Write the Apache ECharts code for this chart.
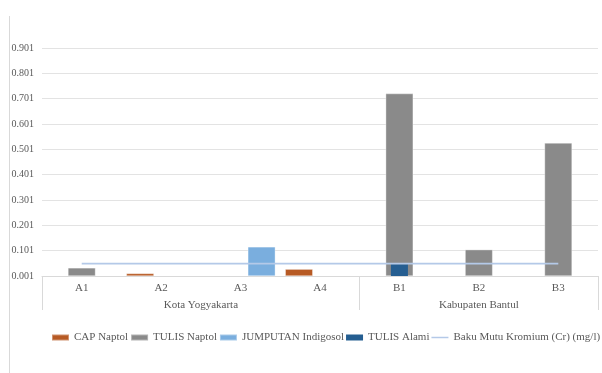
<!DOCTYPE html>
<html>
<head>
<meta charset="utf-8">
<script src="https://cdn.jsdelivr.net/npm/echarts@6/dist/echarts.min.js"></script>
<style>
  html, body { margin: 0; padding: 0; background: #fff; }
  #chart { width: 602px; height: 373px; }
</style>
</head>
<body>
<div id="chart"></div>
<script>
// Sample sites along the x axis, grouped by region
const categories = ['A1', 'A2', 'A3', 'A4', 'B1', 'B2', 'B3'];
const groupNames = ['Kota Yogyakarta', 'Kabupaten Bantul'];
const groupSizes = [4, 3];

// Chromium concentration (mg/l) per batik process
const capNaptol = [null, 0.012, null, 0.029, null, null, null];
const tulisNaptol = [0.034, null, null, null, 0.722, 0.106, 0.527];
const jumputanIndigosol = [null, null, 0.117, null, null, null, null];
const tulisAlami = [null, null, null, null, 0.048, null, null];
// Quality standard for chromium
const bakuMutu = [0.05, 0.05, 0.05, 0.05, 0.05, 0.05, 0.05];

// Value-axis tick labels
const yTicks = [0.001, 0.101, 0.201, 0.301, 0.401, 0.501, 0.601, 0.701, 0.801, 0.901];

const FONT = 'Liberation Serif';
const TEXT = '#595959';
const GRID_LINE = '#E3E3E3';
const AXIS_LINE = '#D9D9D9';

// Boundaries and label centres of the region groups, in category units
const groupBounds = [0];
const groupCenters = [];
groupSizes.forEach(function (n) {
  const start = groupBounds[groupBounds.length - 1];
  groupCenters.push(start + n / 2);
  groupBounds.push(start + n);
});

const chart = echarts.init(document.getElementById('chart'), null, { renderer: 'canvas' });

chart.setOption({
  animation: false,
  backgroundColor: '#fff',
  textStyle: { fontFamily: FONT },
  grid: { left: 42, right: 4, top: 48, bottom: 97, containLabel: false },
  legend: {
    left: 51,
    top: 332,
    width: 600,
    padding: 0,
    itemWidth: 17,
    itemHeight: 6,
    itemGap: 2,
    textStyle: { fontFamily: FONT, fontSize: 11, color: TEXT },
    data: [
      { name: 'CAP Naptol', icon: 'rect' },
      { name: 'TULIS Naptol', icon: 'rect' },
      { name: 'JUMPUTAN Indigosol', icon: 'rect' },
      { name: 'TULIS Alami', icon: 'rect' },
      { name: 'Baku Mutu Kromium (Cr) (mg/l)', icon: 'path://M0,0L17,0L17,1.5L0,1.5Z' }
    ]
  },
  xAxis: [
    {
      type: 'category',
      data: categories,
      position: 'bottom',
      axisLine: { show: true, lineStyle: { color: AXIS_LINE, width: 1 } },
      axisTick: { show: false },
      axisLabel: { color: TEXT, fontFamily: FONT, fontSize: 11, margin: 7, interval: 0 }
    },
    {
      // region grouping row
      type: 'value',
      min: 0,
      max: categories.length,
      position: 'bottom',
      axisLine: { show: false },
      splitLine: { show: false },
      axisTick: {
        show: true,
        length: 34,
        lineStyle: { color: AXIS_LINE, width: 1 },
        customValues: groupBounds
      },
      axisLabel: {
        color: TEXT,
        fontFamily: FONT,
        fontSize: 11,
        margin: 24,
        customValues: groupCenters,
        formatter: function (v) {
          const i = groupCenters.indexOf(v);
          return i >= 0 ? groupNames[i] : '';
        }
      }
    },
    {
      // separate band layout for the narrow TULIS Alami bar
      type: 'category',
      data: categories,
      show: false
    }
  ],
  yAxis: {
    type: 'value',
    min: 0.001,
    max: 0.901,
    axisLine: { show: false },
    axisTick: { show: false, customValues: yTicks },
    splitLine: { show: true, lineStyle: { color: GRID_LINE, width: 1 } },
    axisLabel: {
      color: TEXT,
      fontFamily: FONT,
      fontSize: 10,
      margin: 8,
      customValues: yTicks,
      formatter: function (v) { return v.toFixed(3); }
    }
  },
  series: [
    {
      name: 'CAP Naptol',
      type: 'bar',
      xAxisIndex: 0,
      data: capNaptol,
      barWidth: 28,
      barGap: '-25%',
      itemStyle: { color: '#B75A24', borderColor: 'rgba(255,255,255,0.35)', borderWidth: 1 }
    },
    {
      name: 'TULIS Naptol',
      type: 'bar',
      xAxisIndex: 0,
      data: tulisNaptol,
      barWidth: 28,
      barGap: '-25%',
      itemStyle: { color: '#8A8A8A', borderColor: 'rgba(255,255,255,0.35)', borderWidth: 1 }
    },
    {
      name: 'JUMPUTAN Indigosol',
      type: 'bar',
      xAxisIndex: 0,
      data: jumputanIndigosol,
      barWidth: 28,
      barGap: '-25%',
      itemStyle: { color: '#7AAEDE', borderColor: 'rgba(255,255,255,0.35)', borderWidth: 1 }
    },
    {
      name: 'TULIS Alami',
      type: 'bar',
      xAxisIndex: 2,
      data: tulisAlami,
      barWidth: 17,
      z: 3,
      itemStyle: { color: '#255E91' }
    },
    {
      name: 'Baku Mutu Kromium (Cr) (mg/l)',
      type: 'line',
      xAxisIndex: 0,
      data: bakuMutu,
      symbol: 'none',
      z: 4,
      itemStyle: { color: '#B4C9E8' },
      lineStyle: { color: '#B4C9E8', width: 1.6 }
    }
  ],
  graphic: [
    {
      type: 'line',
      shape: { x1: 9.5, y1: 16, x2: 9.5, y2: 373 },
      style: { stroke: '#D9D9D9', lineWidth: 1 },
      silent: true
    }
  ]
});
</script>
</body>
</html>
